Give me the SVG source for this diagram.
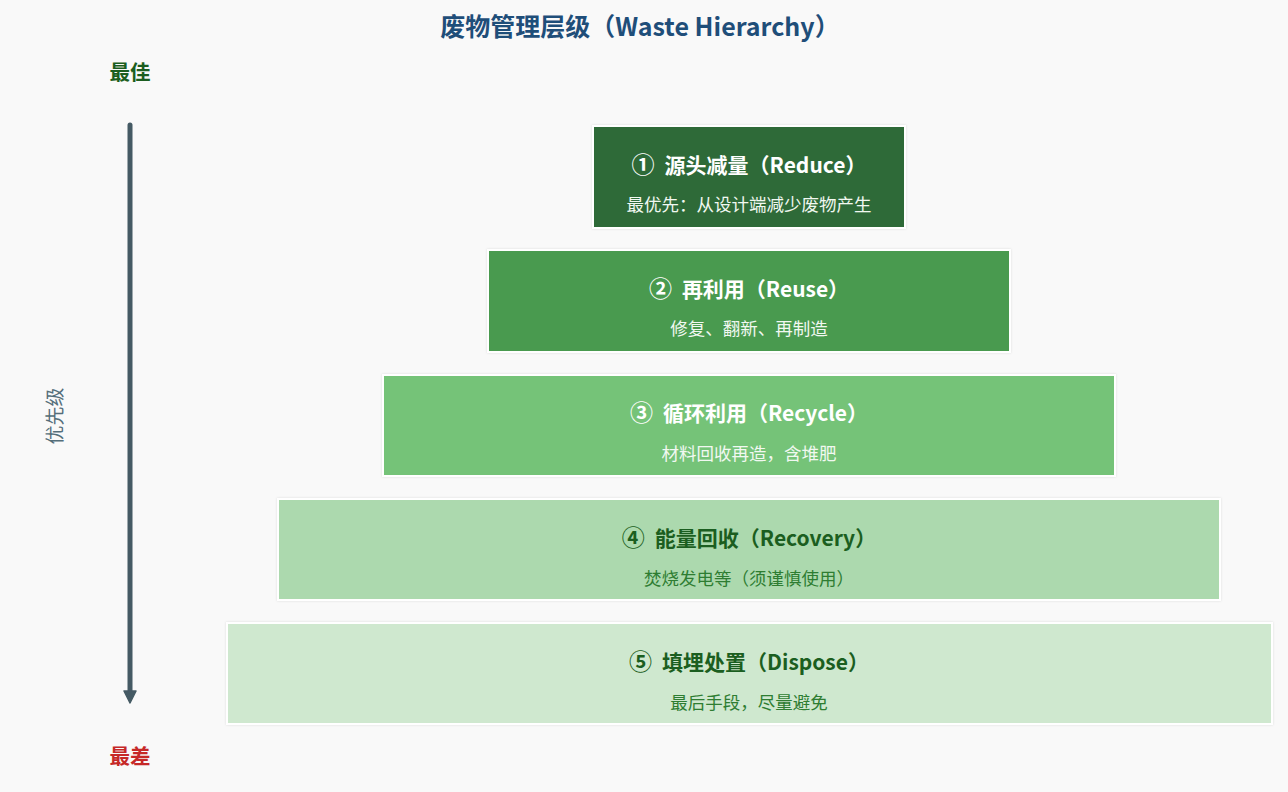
<svg xmlns="http://www.w3.org/2000/svg" width="1288" height="792" viewBox="0 0 1288 792">
  <defs>
    <filter id="sh" x="-5%" y="-10%" width="110%" height="120%">
      <feDropShadow dx="0" dy="0" stdDeviation="1" flood-color="#000" flood-opacity="0.12"/>
    </filter>
    <marker id="arr" markerWidth="16" markerHeight="16" refX="3" refY="7" orient="auto" markerUnits="userSpaceOnUse">
      <path d="M1,1 L13,7 L1,13 Z" fill="#455a64" stroke="#455a64" stroke-width="1.5" stroke-linejoin="round"/>
    </marker>
  </defs>
  <style>
    text { font-family: "Noto Sans CJK SC", "Noto Sans", sans-serif; text-anchor: middle; }
    .box { stroke: #ffffff; stroke-width: 2; filter: url(#sh); }
    .t { font-size: 21px; font-weight: bold; }
    .n { font-size: 23px; }
    .s { font-size: 17.5px; }
    .lt { fill: #ffffff; }
    .ls { fill: #f1f8f1; }
    .dt { fill: #1b5e20; }
    .ds { fill: #2e7d32; }
  </style>
  <rect width="1288" height="792" fill="#f9f9f9"/>
  <text x="640" y="36" font-size="25" font-weight="bold" fill="#1f4e79">废物管理层级（Waste Hierarchy）</text>

  <g id="axis">
    <text x="130" y="80" font-size="20.5" font-weight="bold" fill="#1b5e20">最佳</text>
    <text x="130" y="764" font-size="20.5" font-weight="bold" fill="#c62828">最差</text>
    <text x="0" y="0" font-size="19" fill="#546e7a" transform="translate(62,416) rotate(-90)">优先级</text>
  </g>

  <g id="connectors">
    <line x1="130" y1="125" x2="130" y2="693" stroke="#455a64" stroke-width="5" stroke-linecap="round" marker-end="url(#arr)"/>
  </g>

  <g id="level1">
    <rect class="box" x="593" y="126" width="312" height="102" fill="#2e6b37"/>
    <text class="t lt" x="749" y="173"><tspan class="n">①</tspan><tspan dx="10">源头减量（Reduce）</tspan></text>
    <text class="s ls" x="749" y="211">最优先：从设计端减少废物产生</text>
  </g>
  <g id="level2">
    <rect class="box" x="488" y="250" width="522" height="102" fill="#4a9a4f"/>
    <text class="t lt" x="749" y="297"><tspan class="n">②</tspan><tspan dx="10">再利用（Reuse）</tspan></text>
    <text class="s ls" x="749" y="335">修复、翻新、再制造</text>
  </g>
  <g id="level3">
    <rect class="box" x="383" y="375" width="732" height="101" fill="#75c378"/>
    <text class="t lt" x="749" y="421"><tspan class="n">③</tspan><tspan dx="10">循环利用（Recycle）</tspan></text>
    <text class="s ls" x="749" y="460">材料回收再造，含堆肥</text>
  </g>
  <g id="level4">
    <rect class="box" x="278" y="499" width="942" height="101" fill="#acd9ae"/>
    <text class="t dt" x="749" y="546"><tspan class="n">④</tspan><tspan dx="10">能量回收（Recovery）</tspan></text>
    <text class="s ds" x="749" y="585">焚烧发电等（须谨慎使用）</text>
  </g>
  <g id="level5">
    <rect class="box" x="227" y="623" width="1045" height="101" fill="#cfe8cf"/>
    <text class="t dt" x="749" y="670"><tspan class="n">⑤</tspan><tspan dx="10">填埋处置（Dispose）</tspan></text>
    <text class="s ds" x="749" y="709">最后手段，尽量避免</text>
  </g>
</svg>
